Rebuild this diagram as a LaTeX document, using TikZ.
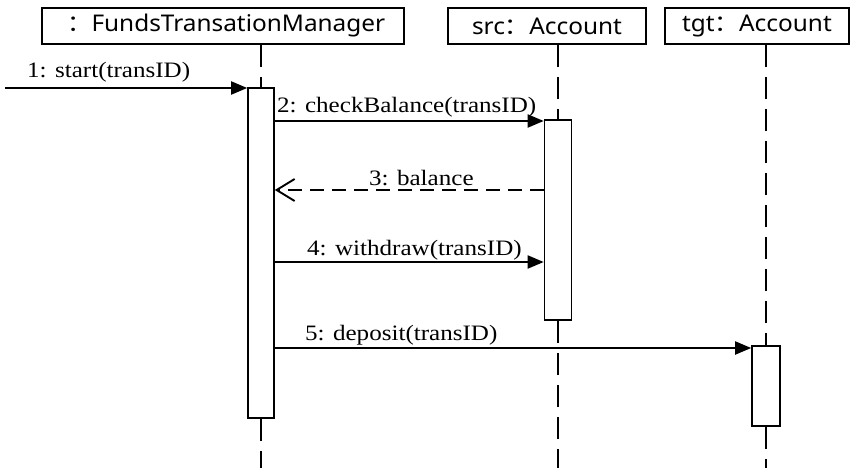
\documentclass[tikz,border=0pt]{standalone}
\usepackage{fontspec}
\setmainfont{Liberation Serif}
\newfontfamily\boxfont{Noto Sans}
\newfontfamily\cjk{Noto Sans CJK SC}
\usetikzlibrary{arrows.meta}
\newcommand{\msgtext}[1]{\scalebox{1.14}[1]{\fontsize{22}{24}\selectfont #1}}
\newcommand{\objtext}[1]{\scalebox{1.06}[1]{\boxfont\fontsize{23}{25}\selectfont #1}}
\begin{document}
\begin{tikzpicture}[x=1pt,y=-1pt,
  objbox/.style={draw, line width=1.6pt, minimum height=36pt, inner sep=0pt},
  actbox/.style={draw, fill=white, line width=1.6pt, inner sep=0pt},
  lifeline/.style={line width=2.2pt, dash pattern=on 22pt off 10pt},
  msg/.style={line width=1.9pt, -{Triangle[length=16pt,width=13pt]}},
  reply/.style={line width=1.9pt, dash pattern=on 14pt off 8pt, -{Straight Barb[length=18pt,width=22pt,line width=1.9pt]}},
  lbl/.style={inner sep=0pt, anchor=base west}
]
\useasboundingbox (0,0) rectangle (851,468);
% object boxes
\node[objbox, minimum width=362pt] (ftm) at (223,26) {\objtext{\hspace*{6pt}\cjk ：\boxfont FundsTransationManager}};
\node[objbox, minimum width=198pt] (src) at (547,26) {\objtext{src\cjk ：\boxfont Account}};
\node[objbox, minimum width=184pt] (tgt) at (757,26) {\objtext{tgt\cjk ：\boxfont Account}};
% activations
\node[actbox, minimum width=26pt, minimum height=330pt] (a1) at (261,253) {};
\node[actbox, minimum width=27pt, minimum height=200pt] (a2) at (558,220) {};
\node[actbox, minimum width=28pt, minimum height=80pt] (a3) at (766,386) {};
\coordinate (bottom) at (0,468);
% lifelines
\draw[lifeline] (ftm.south -| a1) -- (a1.north);
\draw[lifeline] (a1.south) -- (a1 |- bottom);
\draw[lifeline] (src.south -| a2) -- (a2.north);
\draw[lifeline] (a2.south) -- (a2 |- bottom);
\draw[lifeline] (tgt.south -| a3) -- (a3.north);
\draw[lifeline] (a3.south) -- (a3 |- bottom);
% messages
\coordinate (start) at (5,88);
\draw[msg] (start) -- (start -| a1.west);
\draw[msg] (a1.east |- 0,121) -- (a2.west |- 0,121);
\draw[reply] (a2.west |- 0,190) -- (a1.east |- 0,190);
\draw[msg] (a1.east |- 0,262) -- (a2.west |- 0,262);
\draw[msg] (a1.east |- 0,348) -- (a3.west |- 0,348);
% labels
\node[lbl] (l1) at (27,78) {\msgtext{1: start(transID)}};
\node[lbl] (l2) at (277,113) {\msgtext{2: checkBalance(transID)}};
\node[lbl] (l3) at (369,185) {\msgtext{3: balance}};
\node[lbl] (l4) at (307,255) {\msgtext{4: withdraw(transID)}};
\node[lbl] (l5) at (305,340) {\msgtext{5: deposit(transID)}};
\end{tikzpicture}
\end{document}
